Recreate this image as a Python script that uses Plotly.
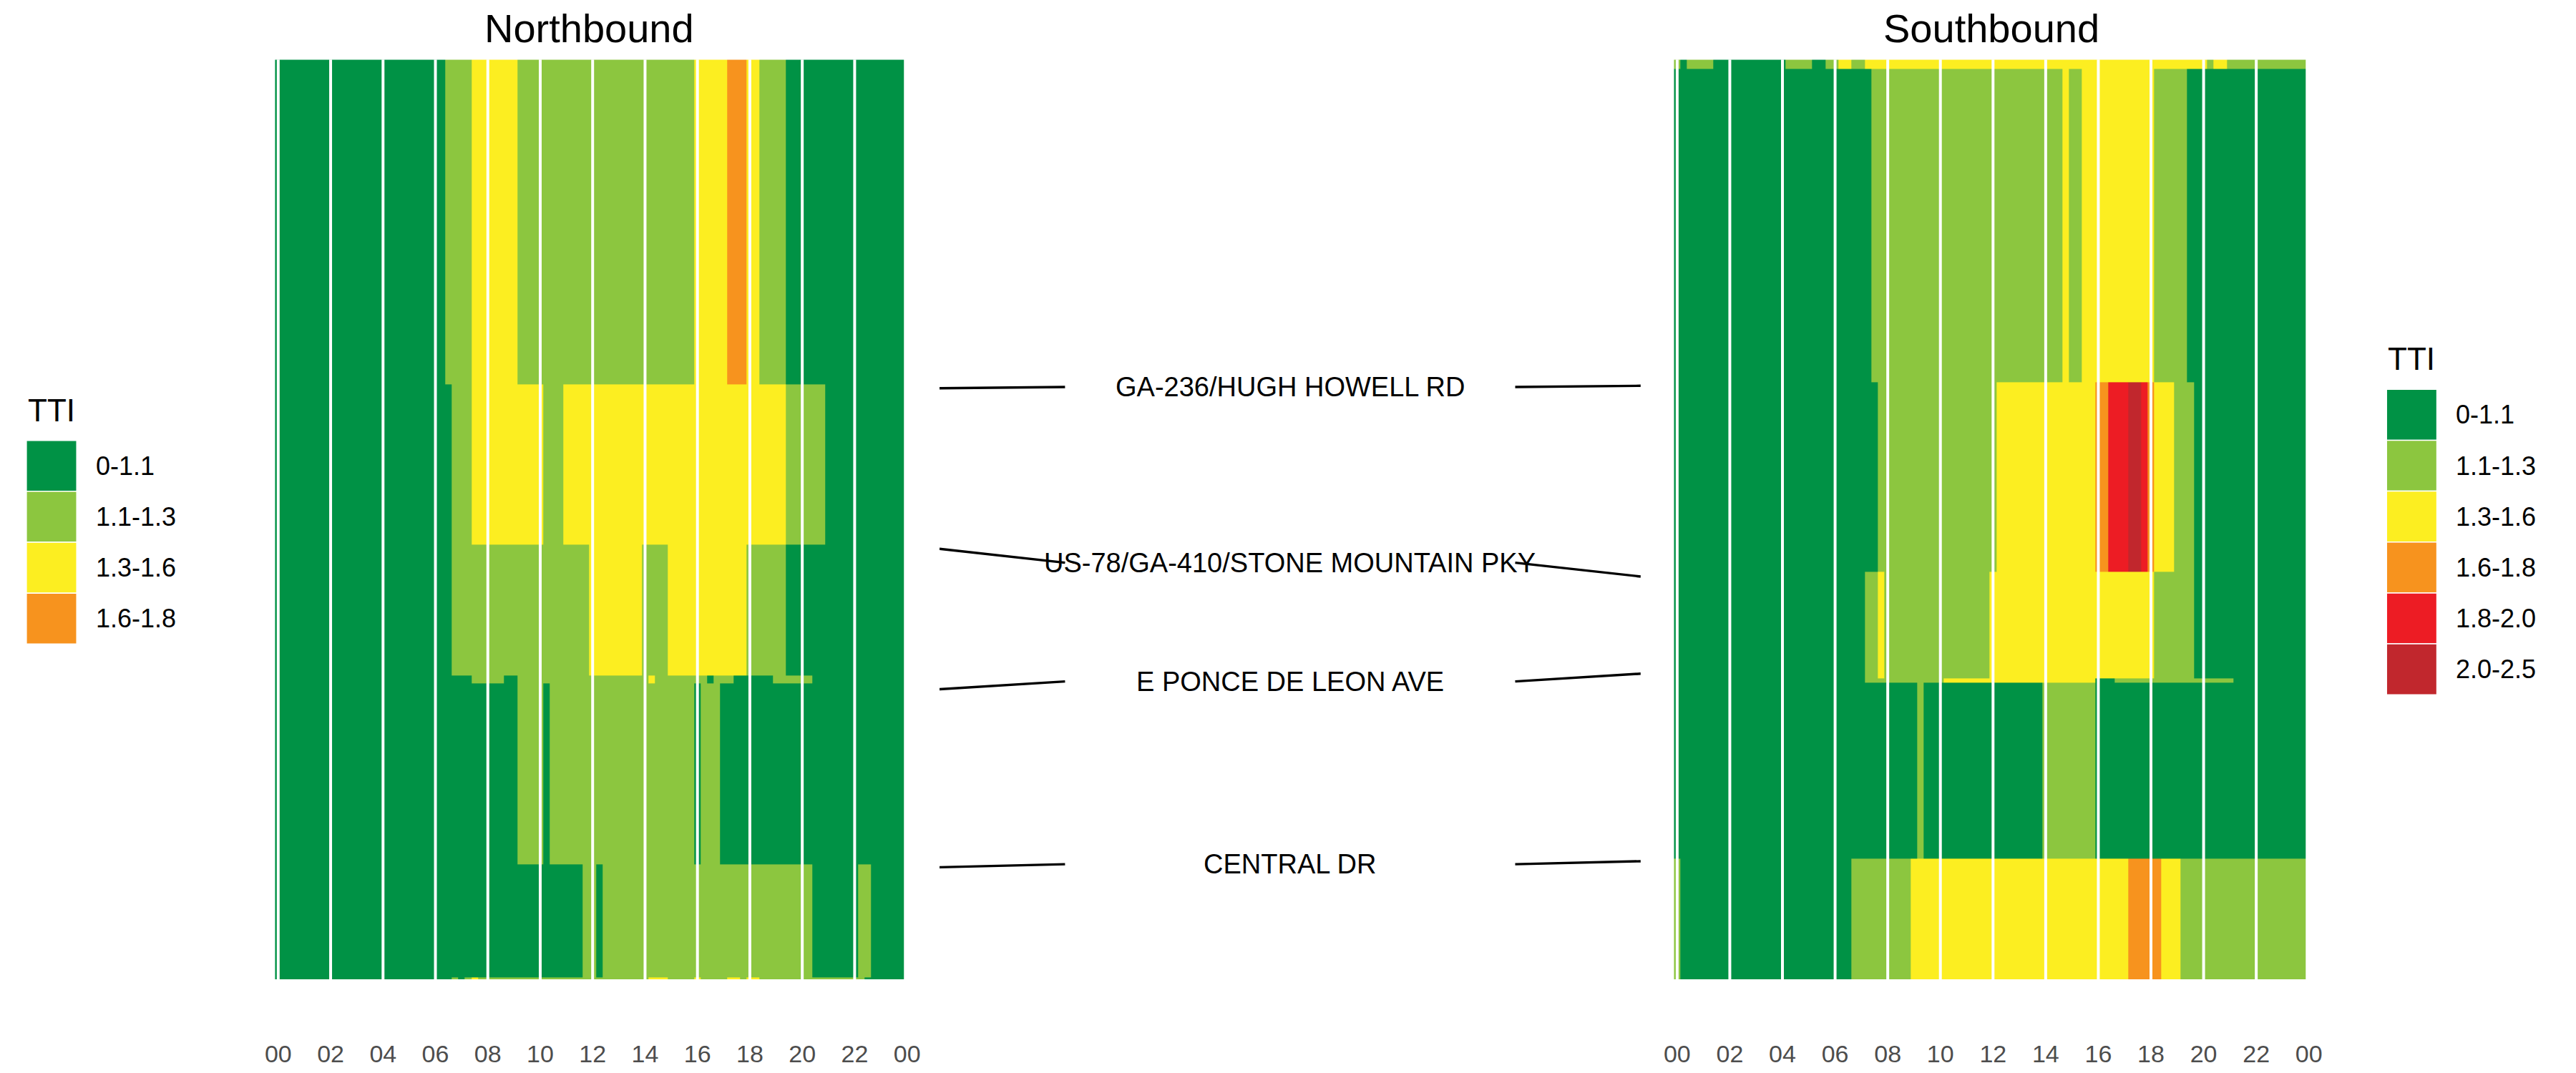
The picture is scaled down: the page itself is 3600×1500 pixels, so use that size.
import plotly.graph_objects as go
import numpy as np

#%% Data

# TTI classes
tti_labels = ["0-1.1", "1.1-1.3", "1.3-1.6", "1.6-1.8", "1.8-2.0", "2.0-2.5"]
tti_colors = ["#009245", "#8CC63F", "#FCEE21", "#F7931E", "#ED1C24", "#C1272D"]

# 15 minute bins (hours)
times = np.arange(96) * 0.25
tick_hours = list(range(0, 25, 2))
tick_text = ["%02d" % (h % 24) for h in tick_hours]

# segment edges, miles from south end
nb_edges = [0, 0.012, 0.648, 1.668, 1.712, 2.452, 3.356, 5.188]
sb_edges = [0, 0.680, 1.672, 1.696, 2.300, 3.368, 5.136, 5.188]

# runs of (start time, TTI class) for each segment, bottom to top
nb_runs = [
    [("00:00", 0), ("06:45", 1), ("07:00", 0), ("07:15", 1), ("07:30", 2), ("07:45", 1),
     ("14:15", 2), ("15:00", 1), ("16:00", 2), ("16:15", 1), ("17:15", 2), ("17:45", 1),
     ("18:00", 2), ("18:30", 1), ("22:30", 0)],
    [("00:00", 0), ("11:45", 1), ("12:15", 0), ("12:30", 1), ("20:30", 0), ("22:15", 1), ("22:45", 0)],
    [("00:00", 0), ("09:15", 1), ("10:15", 0), ("10:30", 1), ("16:00", 0), ("16:15", 1), ("17:00", 0)],
    [("00:00", 0), ("07:30", 1), ("08:45", 0), ("09:15", 1), ("14:15", 2), ("14:30", 1),
     ("16:30", 0), ("16:45", 1), ("17:30", 0), ("19:00", 1), ("20:30", 0)],
    [("00:00", 0), ("06:45", 1), ("12:00", 2), ("14:00", 1), ("15:00", 2), ("18:00", 1), ("19:30", 0)],
    [("00:00", 0), ("06:45", 1), ("07:30", 2), ("10:15", 1), ("11:00", 2), ("19:30", 1), ("21:00", 0)],
    [("00:00", 0), ("06:30", 1), ("07:30", 2), ("09:15", 1), ("16:00", 2), ("17:15", 3),
     ("18:00", 2), ("18:30", 1), ("19:30", 0)],
]
sb_runs = [
    [("00:00", 1), ("00:15", 0), ("06:45", 1), ("09:00", 2), ("17:15", 3), ("18:30", 2), ("19:15", 1)],
    [("00:00", 0), ("09:15", 1), ("09:30", 0), ("14:00", 1), ("16:00", 0)],
    [("00:00", 0), ("07:15", 1), ("10:15", 2), ("16:00", 0), ("16:45", 1), ("21:15", 0)],
    [("00:00", 0), ("07:15", 1), ("07:45", 2), ("08:00", 1), ("12:00", 2), ("18:15", 1), ("19:45", 0)],
    [("00:00", 0), ("07:45", 1), ("12:15", 2), ("16:00", 3), ("16:30", 4), ("17:15", 5),
     ("17:45", 4), ("18:00", 3), ("18:15", 2), ("19:00", 1), ("19:45", 0)],
    [("00:00", 0), ("07:30", 1), ("14:45", 2), ("15:00", 1), ("15:30", 2), ("18:15", 1), ("19:30", 0)],
    [("00:00", 1), ("00:15", 0), ("00:30", 1), ("01:30", 0), ("04:15", 1), ("05:15", 0),
     ("05:45", 1), ("06:15", 2), ("06:45", 1), ("07:15", 2), ("20:15", 1), ("20:30", 2), ("21:00", 1)],
]

# cross streets and where they sit on each direction (miles)
xst_names = ["GA-236/HUGH HOWELL RD", "US-78/GA-410/STONE MOUNTAIN PKY",
             "E PONCE DE LEON AVE", "CENTRAL DR"]
nb_xst = [3.334, 2.428, 1.636, 0.632]
sb_xst = [3.348, 2.272, 1.724, 0.666]


#%% Helpers

def expand(runs):
    row = np.zeros(len(times), dtype=int)
    for t, c in runs:
        hh, mm = t.split(":")
        k = (int(hh) * 60 + int(mm)) // 15
        row[k:] = c
    return row

nb_z = np.array([expand(r) for r in nb_runs])
sb_z = np.array([expand(r) for r in sb_runs])

n = len(tti_colors)
cscale = []
for i, c in enumerate(tti_colors):
    cscale += [[i / n, c], [(i + 1) / n, c]]

# page is 3600x1500 with the default 8px body margin around the plot div
OFF = 8
W, H = 3600 - 2 * OFF, 1500 - 2 * OFF
FONT = "Liberation Sans, Arial, sans-serif"

def px(x):
    return (x - OFF) / W

def py(y):
    return 1 - (y - OFF) / H

ydom = [py(1381), py(84)]
ytop = max(nb_edges[-1], sb_edges[-1])

#%% Plotting
fig = go.Figure()

for z, edges, xa, ya in [(nb_z, nb_edges, "x", "y"), (sb_z, sb_edges, "x2", "y2")]:
    fig.add_trace(go.Heatmap(
        x=times, y=edges, z=z,
        colorscale=cscale, zmin=-0.5, zmax=n - 0.5,
        showscale=False, hoverinfo="skip",
        xaxis=xa, yaxis=ya,
    ))

# white hour lines on top of the tiles
shapes = []
for xref, yref in [("x", "y domain"), ("x2", "y2 domain")]:
    for h in tick_hours:
        shapes.append(dict(type="line", xref=xref, yref=yref, x0=h, x1=h, y0=0, y1=1,
                           line=dict(color="white", width=4), layer="above"))

# connector lines and street labels in the middle
annotations = []
for name, yn, ys in zip(xst_names, nb_xst, sb_xst):
    ym = (yn + ys) / 2
    fig.add_trace(go.Scatter(x=[0, 0.179], y=[yn, ym], mode="lines",
                             line=dict(color="black", width=3.4),
                             xaxis="x3", yaxis="y3", showlegend=False, hoverinfo="skip"))
    fig.add_trace(go.Scatter(x=[0.821, 1], y=[ym, ys], mode="lines",
                             line=dict(color="black", width=3.4),
                             xaxis="x3", yaxis="y3", showlegend=False, hoverinfo="skip"))
    annotations.append(dict(x=0.5, y=ym, xref="x3", yref="y3", text=name, showarrow=False,
                            xanchor="center", yanchor="middle",
                            font=dict(family=FONT, size=38, color="black")))

# panel titles
for title, cx in [("Northbound", 817), ("Southbound", 2794.6)]:
    annotations.append(dict(x=px(cx), y=py(40), xref="paper", yref="paper", text=title,
                            showarrow=False, xanchor="center", yanchor="middle",
                            font=dict(family=FONT, size=56, color="black")))

# legends: one per panel, only the classes that appear
key_h = 71.8
for z, x0, top in [(nb_z, 23, 621), (sb_z, 3352, 549)]:
    used = sorted(set(z.ravel().tolist()))
    annotations.append(dict(x=px(x0), y=py(top - 43), xref="paper", yref="paper", text="TTI",
                            showarrow=False, xanchor="left", yanchor="middle",
                            font=dict(family=FONT, size=44, color="black")))
    for j, c in enumerate(used):
        y0 = top + j * key_h
        shapes.append(dict(type="rect", xref="paper", yref="paper",
                           x0=px(x0), x1=px(x0 + 71), y0=py(y0), y1=py(y0 + key_h),
                           fillcolor=tti_colors[c], line=dict(color="white", width=1.5)))
        annotations.append(dict(x=px(x0 + 96), y=py(y0 + key_h / 2), xref="paper", yref="paper",
                                text=tti_labels[c], showarrow=False,
                                xanchor="left", yanchor="middle",
                                font=dict(family=FONT, size=36, color="black")))

xcommon = dict(range=[-0.125, 24], tickvals=tick_hours, ticktext=tick_text,
               ticks="outside", ticklen=74, tickcolor="rgba(0,0,0,0)",
               showgrid=False, zeroline=False, showline=False,
               tickfont=dict(family=FONT, size=34, color="#4D4D4D"), fixedrange=True)
ycommon = dict(range=[0, ytop], showticklabels=False, showgrid=False, zeroline=False,
               showline=False, ticks="", domain=ydom, fixedrange=True)

fig.update_layout(
    width=W, height=H,
    margin=dict(l=0, r=0, t=0, b=0, pad=0),
    paper_bgcolor="white", plot_bgcolor="white",
    showlegend=False,
    xaxis=dict(xcommon, domain=[px(373.6), px(1265.2)], anchor="y"),
    yaxis=dict(ycommon, anchor="x"),
    xaxis2=dict(xcommon, domain=[px(2346.8), px(3242.5)], anchor="y2"),
    yaxis2=dict(ycommon, anchor="x2"),
    xaxis3=dict(range=[0, 1], domain=[px(1311), px(2300)], anchor="y3", visible=False),
    yaxis3=dict(ycommon, anchor="x3", visible=False),
    shapes=shapes,
    annotations=annotations,
)

fig.write_html("out.html")
